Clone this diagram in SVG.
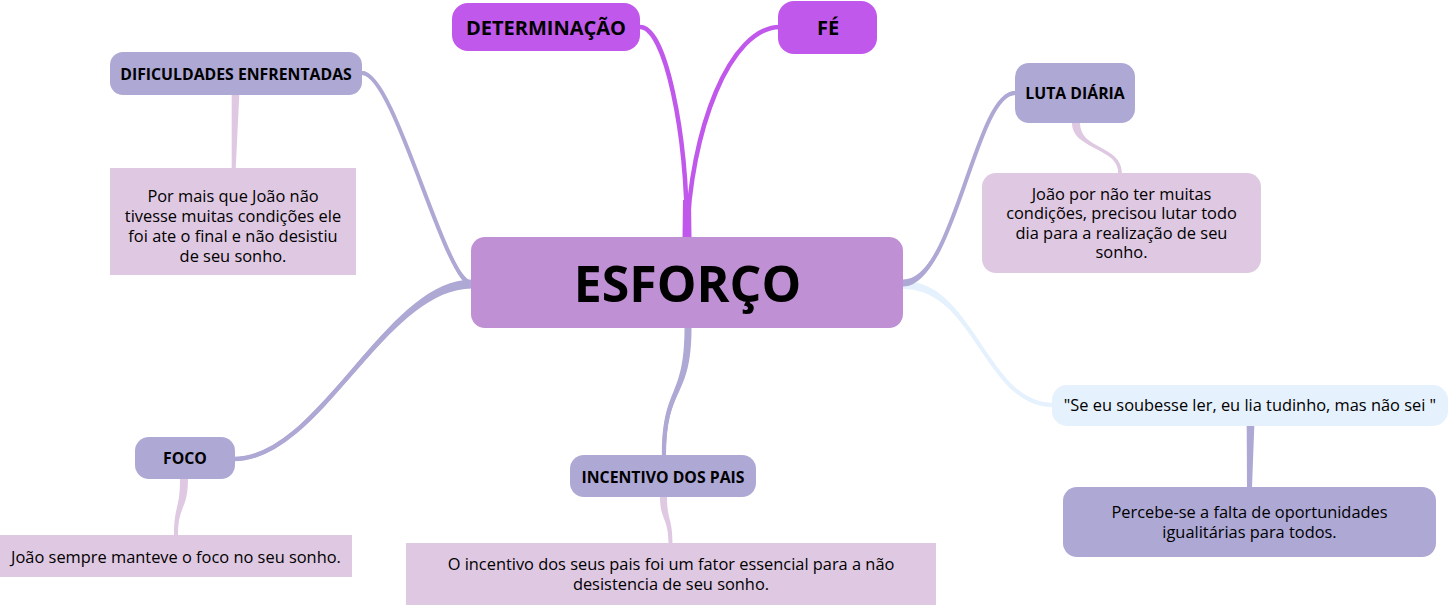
<svg xmlns="http://www.w3.org/2000/svg" width="1449" height="605" viewBox="0 0 1449 605">
<style>
text{font-family:"Open Sans","Liberation Sans",sans-serif;fill:#000;text-anchor:middle}
.b{font-weight:bold;font-size:15.8px}
.n{font-size:16.4px}
.big{font-weight:bold;font-size:20px}
.main{fill:#c090d4}
.acc{fill:#c158ec}
.l1{fill:#aea8d5}
.note{fill:#dfc8e2}
.quote{fill:#e5f1fd}
.s{fill:none;stroke-linecap:round}
</style>
<rect width="1449" height="605" fill="#fff"/>
<g id="connectors">
  <path class="s" d="M1053,405 C985,405 975,285 903,285" stroke="#e5f1fd" stroke-width="4"/>
  <path d="M1053,403 C985,403 975,281 903,281 L903,289 C975,289 985,407 1053,407 Z" fill="#e5f1fd"/>
  <path class="s" d="M362,73 C395,73 445,284 472,284" stroke="#aea8d5" stroke-width="4"/>
  <path d="M362,71 C395,71 445,280.5 472,280.5 L472,287.5 C445,287.5 395,75 362,75 Z" fill="#aea8d5"/>
  <path class="s" d="M234,459 C320,459 385,284 472,284" stroke="#aea8d5" stroke-width="4.5"/>
  <path d="M234,457 C320,457 385,279.5 472,279.5 L472,288.5 C385,288.5 320,461 234,461 Z" fill="#aea8d5"/>
  <path class="s" d="M1015,93 C975,93 955,283 903,283" stroke="#aea8d5" stroke-width="4"/>
  <path d="M1015,91 C975,91 955,279.5 903,279.5 L903,286.5 C955,286.5 975,95 1015,95 Z" fill="#aea8d5"/>
  <path class="s" d="M664,456 C664,385 688,400 688,328" stroke="#aea8d5" stroke-width="4"/>
  <path d="M662,456 C662,385 684.5,400 684.5,328 L691.5,328 C691.5,400 666,385 666,456 Z" fill="#aea8d5"/>
  <path class="s" d="M640,27 C665,27 687,130 687,238" stroke="#c158ec" stroke-width="4.5"/>
  <path class="s" d="M780,27 C730,27 690,130 687,238" stroke="#c158ec" stroke-width="4.5"/>
  <path d="M683,200 L691,200 L691.5,238 L682.5,238 Z" fill="#c158ec"/>
  <path d="M231.7,95 L239.3,95 L235.7,169 L231.7,169 Z" fill="#dfc8e2"/>
  <path class="s" d="M1076,123 C1076,150 1120,146 1120,173" stroke="#dfc8e2" stroke-width="3.5"/>
  <path d="M1072,123 C1072,150 1118.5,146 1118.5,173 L1121.5,173 C1121.5,146 1080,150 1080,123 Z" fill="#dfc8e2"/>
  <path d="M1246.7,426 L1254.3,426 L1252,487.5 L1247,487.5 Z" fill="#aea8d5"/>
  <path class="s" d="M184,479 C184,510 176,505 176,535" stroke="#dfc8e2" stroke-width="3"/>
  <path d="M180,479 C180,510 174,505 174,535 L178,535 C178,505 188,510 188,479 Z" fill="#dfc8e2"/>
  <path class="s" d="M663.5,497 C663.5,520 670.5,518 670.5,543" stroke="#dfc8e2" stroke-width="3"/>
  <path d="M660,497 C660,520 668.5,518 668.5,543 L672.5,543 C672.5,518 667,520 667,497 Z" fill="#dfc8e2"/>
</g>
<g id="node-esforco">
  <rect class="main" x="471" y="237" width="432" height="91" rx="14"/>
  <text x="687.5" y="302" style="font-size:50px;font-weight:bold">ESFORÇO</text>
</g>
<g id="node-determinacao">
  <rect class="acc" x="452" y="3" width="188" height="48" rx="16"/>
  <text class="big" x="546" y="34.5">DETERMINAÇÃO</text>
</g>
<g id="node-fe">
  <rect class="acc" x="778" y="1" width="99" height="53" rx="16"/>
  <text class="big" x="828" y="34.5">FÉ</text>
</g>
<g id="node-dificuldades">
  <rect class="l1" x="110" y="52" width="252" height="43" rx="13"/>
  <text class="b" x="236" y="79.5">DIFICULDADES ENFRENTADAS</text>
</g>
<g id="note-dificuldades">
  <rect class="note" x="110" y="168" width="246" height="107"/>
  <text class="n" x="233" y="201.5">Por mais que João não</text>
  <text class="n" x="233" y="221.5">tivesse muitas condições ele</text>
  <text class="n" x="233" y="241.5">foi ate o final e não desistiu</text>
  <text class="n" x="233" y="261.5">de seu sonho.</text>
</g>
<g id="node-luta">
  <rect class="l1" x="1015" y="63" width="120" height="60" rx="14"/>
  <text class="b" x="1075" y="99">LUTA DIÁRIA</text>
</g>
<g id="note-luta">
  <rect class="note" x="982" y="173" width="279" height="100" rx="14"/>
  <text class="n" x="1121.5" y="200">João por não ter muitas</text>
  <text class="n" x="1121.5" y="219.3">condições, precisou lutar todo</text>
  <text class="n" x="1121.5" y="238.6">dia para a realização de seu</text>
  <text class="n" x="1121.5" y="258">sonho.</text>
</g>
<g id="node-quote">
  <rect class="quote" x="1052" y="385" width="396" height="41" rx="15"/>
  <text class="n" x="1250" y="410.5">"Se eu soubesse ler, eu lia tudinho, mas não sei "</text>
</g>
<g id="note-percebe">
  <rect class="l1" x="1063" y="487" width="373" height="70" rx="14"/>
  <text class="n" x="1249.5" y="518">Percebe-se a falta de oportunidades</text>
  <text class="n" x="1249.5" y="537.5">igualitárias para todos.</text>
</g>
<g id="node-foco">
  <rect class="l1" x="135" y="437" width="100" height="42" rx="14"/>
  <text class="b" x="185" y="464">FOCO</text>
</g>
<g id="note-foco">
  <rect class="note" x="0" y="535" width="352" height="42"/>
  <text class="n" x="176" y="562.5">João sempre manteve o foco no seu sonho.</text>
</g>
<g id="node-incentivo">
  <rect class="l1" x="570" y="455" width="186" height="42" rx="14"/>
  <text class="b" x="663" y="483">INCENTIVO DOS PAIS</text>
</g>
<g id="note-incentivo">
  <rect class="note" x="406" y="543" width="530" height="62"/>
  <text class="n" x="671" y="570">O incentivo dos seus pais foi um fator essencial para a não</text>
  <text class="n" x="671" y="590">desistencia de seu sonho.</text>
</g>
</svg>
